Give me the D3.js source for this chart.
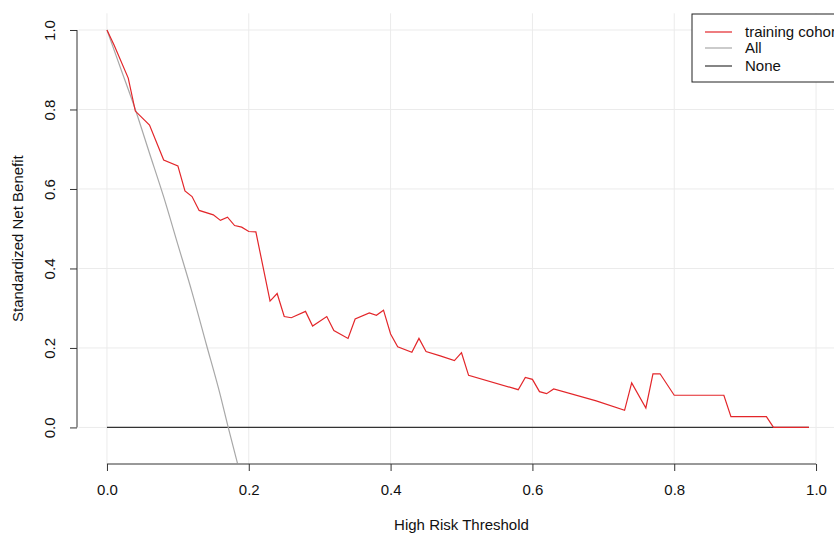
<!DOCTYPE html>
<html>
<head>
<meta charset="utf-8">
<script src="https://cdn.jsdelivr.net/npm/d3@7"></script>
<style>
  body { margin: 0; background: #fff; overflow: hidden; }
  svg { display: block; font-family: "Liberation Sans", Arial, sans-serif; }
</style>
</head>
<body>
<div id="chart"></div>
<script>
// decision curve values
const thresholds = [0, 0.01, 0.03, 0.04, 0.06, 0.08, 0.10, 0.11, 0.12, 0.13, 0.15, 0.16, 0.17, 0.18, 0.19, 0.20, 0.21,
    0.23, 0.24, 0.25, 0.26, 0.28, 0.29, 0.31, 0.32, 0.34, 0.35, 0.37, 0.38, 0.39, 0.40, 0.41, 0.43, 0.44, 0.45, 0.47,
    0.49, 0.50, 0.51, 0.58, 0.59, 0.60, 0.61, 0.62, 0.63, 0.69, 0.73, 0.74, 0.76, 0.77, 0.78, 0.80, 0.87, 0.88, 0.93,
    0.94, 0.99];
const trainingNB = [1.0, 0.962, 0.879, 0.796, 0.761, 0.673, 0.658, 0.595, 0.581, 0.546, 0.535, 0.521, 0.529, 0.508,
    0.504, 0.493, 0.492, 0.318, 0.337, 0.279, 0.276, 0.292, 0.255, 0.279, 0.244, 0.224, 0.273, 0.288, 0.282, 0.295,
    0.235, 0.203, 0.189, 0.224, 0.191, 0.180, 0.168, 0.188, 0.131, 0.095, 0.126, 0.121, 0.090, 0.085, 0.097, 0.067,
    0.043, 0.112, 0.049, 0.135, 0.135, 0.081, 0.081, 0.027, 0.027, 0, 0];

const allThresholds = [0, 0.02, 0.04, 0.06, 0.08, 0.10, 0.12, 0.14, 0.16, 0.171, 0.184];
const allNB = [1.0, 0.90, 0.80, 0.69, 0.58, 0.46, 0.34, 0.21, 0.08, 0, -0.09];

const noneThresholds = [0, 0.99];
const noneNB = [0, 0];

const xTicks = [0, 0.2, 0.4, 0.6, 0.8, 1.0];
const yTicks = [0, 0.2, 0.4, 0.6, 0.8, 1.0];

const legendLabels = ['training cohort', 'All', 'None'];
const legendColors = ['#e3262a', '#a8a8a8', '#333333'];

const W = 834, H = 533;
const plot = {left: 78.6, right: 844.4, top: 13.3, bottom: 464};

const svg = d3.select('#chart')
    .append('svg')
    .attr('width', W)
    .attr('height', H);

const x = d3.scaleLinear()
    .domain([-0.04, 1.04])
    .range([plot.left, plot.right]);

const y = d3.scaleLinear()
    .domain([-0.092, 1.042])
    .range([plot.bottom, plot.top]);

// grid
svg.append('g')
    .selectAll('line')
    .data(xTicks)
    .enter()
    .append('line')
    .attr('x1', d => x(d)).attr('x2', d => x(d))
    .attr('y1', plot.top).attr('y2', plot.bottom)
    .attr('stroke', '#ebebeb');

svg.append('g')
    .selectAll('line')
    .data(yTicks)
    .enter()
    .append('line')
    .attr('x1', plot.left).attr('x2', plot.right)
    .attr('y1', d => y(d)).attr('y2', d => y(d))
    .attr('stroke', '#ebebeb');

// curves
const line = d3.line().x(d => x(d[0])).y(d => y(d[1]));

svg.append('path')
    .datum(d3.zip(noneThresholds, noneNB))
    .attr('d', line)
    .attr('fill', 'none')
    .attr('stroke', legendColors[2])
    .attr('stroke-width', 1.2);

svg.append('path')
    .datum(d3.zip(allThresholds, allNB))
    .attr('d', d3.line().x(d => x(d[0])).y(d => y(d[1])).curve(d3.curveMonotoneX))
    .attr('fill', 'none')
    .attr('stroke', legendColors[1])
    .attr('stroke-width', 1.2);

svg.append('path')
    .datum(d3.zip(thresholds, trainingNB))
    .attr('d', line)
    .attr('fill', 'none')
    .attr('stroke', legendColors[0])
    .attr('stroke-width', 1.2);

// axes, R style
const xAxis = svg.append('g')
    .attr('transform', `translate(0,${plot.bottom})`)
    .call(d3.axisBottom(x).tickValues(xTicks).tickFormat(d3.format('.1f')).tickSizeOuter(0).tickSize(7).tickPadding(13));
xAxis.select('.domain').attr('d', `M${x(0)},0H${x(1)}`).attr('stroke', '#333');
xAxis.selectAll('.tick line').attr('stroke', '#333');
xAxis.selectAll('text').attr('font-size', 15).attr('fill', '#111').attr('font-family', null);

const yAxis = svg.append('g')
    .attr('transform', `translate(77,0)`)
    .call(d3.axisLeft(y).tickValues(yTicks).tickFormat(d3.format('.1f')).tickSizeOuter(0).tickSize(7));
yAxis.select('.domain').attr('d', `M0,${y(0)}V${y(1)}`).attr('stroke', '#333');
yAxis.selectAll('.tick line').attr('stroke', '#333');
yAxis.selectAll('text')
    .attr('font-size', 15)
    .attr('fill', '#111')
    .attr('font-family', null)
    .attr('text-anchor', 'middle')
    .attr('x', 0).attr('dy', 0)
    .attr('transform', 'translate(-22,0) rotate(-90)');

// axis titles
svg.append('text')
    .attr('x', (plot.left + plot.right) / 2)
    .attr('y', 530)
    .attr('text-anchor', 'middle')
    .attr('font-size', 15)
    .attr('fill', '#111')
    .text('High Risk Threshold');

svg.append('text')
    .attr('transform', `translate(23,${(plot.top + plot.bottom) / 2}) rotate(-90)`)
    .attr('text-anchor', 'middle')
    .attr('font-size', 15)
    .attr('fill', '#111')
    .text('Standardized Net Benefit');

// legend
const legend = svg.append('g').attr('transform', 'translate(692,14)');
legend.append('rect')
    .attr('width', 160).attr('height', 68)
    .attr('fill', '#fff')
    .attr('stroke', '#222');

const rowY = [18, 34, 52];
legendLabels.forEach((label, i) => {
    legend.append('line')
        .attr('x1', 13).attr('x2', 40)
        .attr('y1', rowY[i]).attr('y2', rowY[i])
        .attr('stroke', legendColors[i])
        .attr('stroke-width', 1.2);
    legend.append('text')
        .attr('x', 53).attr('y', rowY[i] + 5)
        .attr('font-size', 15)
        .attr('fill', '#111')
        .text(label);
});
</script>
</body>
</html>
